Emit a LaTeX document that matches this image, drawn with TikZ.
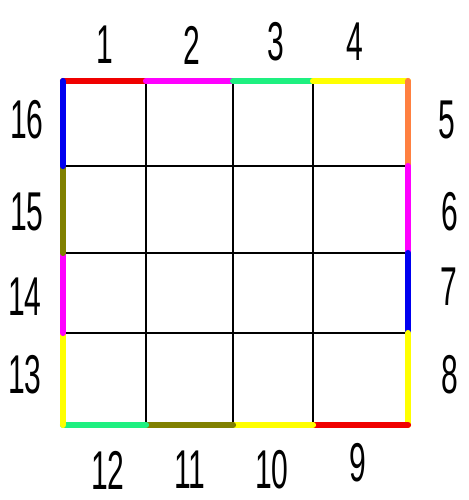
\documentclass[tikz,border=0pt]{standalone}
\usepackage{fontspec}
\newfontfamily\numfont[FakeStretch=0.55]{Liberation Sans}
\usetikzlibrary{positioning}

\definecolor{edgered}{HTML}{F00000}
\definecolor{edgemag}{HTML}{FF00FF}
\definecolor{edgegreen}{HTML}{1EF080}
\definecolor{edgeyellow}{HTML}{FFFF00}
\definecolor{edgeorange}{HTML}{FF8040}
\definecolor{edgeblue}{HTML}{0000F0}
\definecolor{edgeolive}{HTML}{808000}

\begin{document}
\begin{tikzpicture}[
    x=0.75pt, y=-0.75pt,
    gridline/.style={draw=black, line width=1.1pt},
    side/.style={line width=4.6pt, line cap=round},
    num/.style={font=\numfont\fontsize{41}{41}\selectfont, inner sep=0pt}
]
\useasboundingbox[fill=white] (0,0) rectangle (468,500);

% ----------------- grid points -----------------
\foreach \i/\x in {0/63, 1/146, 2/233, 3/313, 4/408} {
    \foreach \j/\y in {0/81, 1/166, 2/253, 3/333, 4/425} {
        \coordinate (p\i\j) at (\x,\y);
    }
}

% ----------------- inner grid -----------------
\foreach \i in {0,...,4} {
    \draw[gridline] (p\i0) -- (p\i4);
    \draw[gridline] (p0\i) -- (p4\i);
}

% ----------------- coloured sides -----------------
% top
\draw[side, edgered]    (p00) -- (p10);
\draw[side, edgemag]    (p10) -- (p20);
\draw[side, edgegreen]  (p20) -- (p30);
\draw[side, edgeyellow] (p30) -- (p40);
% right
\draw[side, edgeorange] (p40) -- (p41);
\draw[side, edgemag]    (p41) -- (p42);
\draw[side, edgeblue]   (p42) -- (p43);
\draw[side, edgeyellow] (p43) -- (p44);
% bottom
\draw[side, edgered]    (p44) -- (p34);
\draw[side, edgeyellow] (p34) -- (p24);
\draw[side, edgeolive]  (p24) -- (p14);
\draw[side, edgegreen]  (p14) -- (p04);
% left
\draw[side, edgeyellow] (p04) -- (p03);
\draw[side, edgemag]    (p03) -- (p02);
\draw[side, edgeolive]  (p02) -- (p01);
\draw[side, edgeblue]   (p01) -- (p00);

% ----------------- numbers -----------------
\node[num] (n1)  at (105,45)  {1};
\node[num] (n2)  at (192,45)  {2};
\node[num] (n3)  at (276,42)  {3};
\node[num] (n4)  at (355,42)  {4};
\node[num] (n5)  at (447,120) {5};
\node[num] (n6)  at (450,212) {6};
\node[num] (n7)  at (449,287) {7};
\node[num] (n8)  at (450,375) {8};
\node[num] (n9)  at (358,463) {9};
\node[num] (n10) at (272,470) {10};
\node[num] (n11) at (190,470) {11};
\node[num] (n12) at (108,470) {12};
\node[num] (n13) at (25,375)  {13};
\node[num] (n14) at (25,297)  {14};
\node[num] (n15) at (27,212)  {15};
\node[num] (n16) at (27,120)  {16};

\end{tikzpicture}
\end{document}
